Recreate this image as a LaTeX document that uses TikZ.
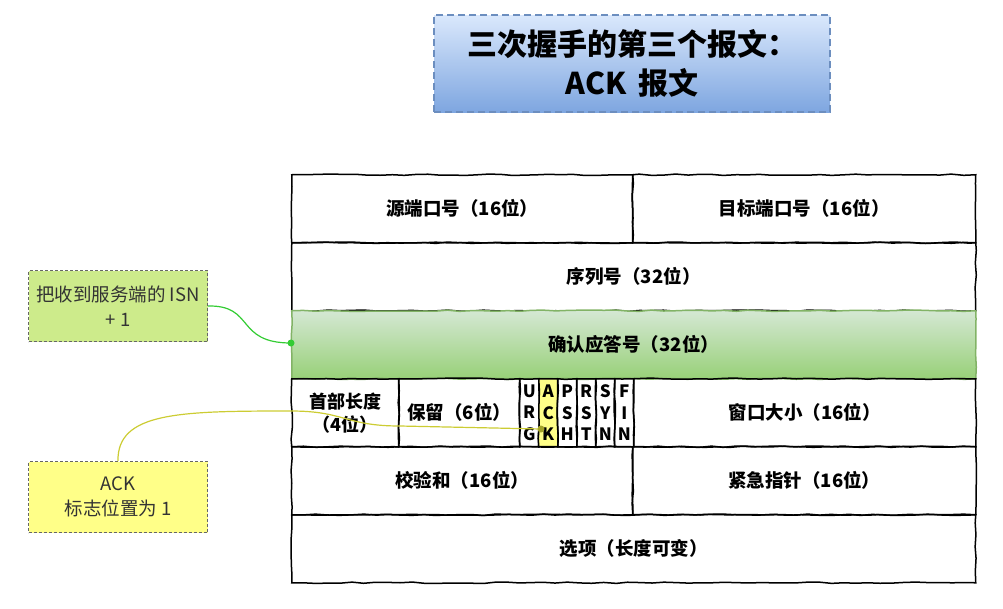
\documentclass[tikz,border=0pt]{standalone}
\usepackage{fontspec}
\setmainfont{Noto Sans CJK SC}
\usetikzlibrary{decorations.pathmorphing,shadings}
\definecolor{titletop}{HTML}{DAE8FC}
\definecolor{titlebot}{HTML}{7EA6E0}
\definecolor{titleline}{HTML}{6C8EBF}
\definecolor{greentop}{HTML}{D5E8D4}
\definecolor{greenbot}{HTML}{97D077}
\definecolor{greenline}{HTML}{82B366}
\definecolor{notegreen}{HTML}{CDEB8B}
\definecolor{noteyellow}{HTML}{FFFF88}
\definecolor{notetext}{HTML}{333333}
\definecolor{conngreen}{HTML}{33CC33}
\definecolor{connyellow}{HTML}{CCCC33}
\definecolor{flagyellow}{HTML}{FFFF88}
\tikzset{
  cell/.style={draw=black, line width=1.5pt, anchor=north west, inner sep=0pt,
    minimum height=68pt, font=\fontsize{18.5}{21}\selectfont\bfseries,
    decorate, decoration={random steps, segment length=12pt, amplitude=0.7pt}},
  flagcell/.style={cell, minimum width=19pt, align=center, font=\fontsize{17}{21.5}\selectfont\bfseries},
  note/.style={draw=gray!80!black, dash pattern=on 3pt off 2pt, line width=1pt, anchor=north west,
    minimum width=179pt, minimum height=71pt, inner sep=0pt, align=center,
    text=notetext, font=\fontsize{18.5}{25}\selectfont},
}
\begin{document}
\begin{tikzpicture}[x=1pt,y=-1pt]
\useasboundingbox (0,0) rectangle (1003,608);
% title
\node[draw=titleline, dash pattern=on 7pt off 4pt, line width=1.6pt, top color=titletop, bottom color=titlebot,
  minimum width=396pt, minimum height=97pt, inner sep=0pt, align=center,
  font=\fontsize{30}{39}\selectfont\bfseries] (title) at (632,63.5)
  {三次握手的第三个报文：\\ACK\hspace{0.4em}报文};
% table
\node[cell, minimum width=341pt] (src) at (291,174) {源端口号（16位）};
\node[cell, minimum width=343pt] (dst) at (632,174) {目标端口号（16位）};
\node[cell, minimum width=684pt] (seq) at (291,242) {序列号（32位）};
\node[cell, draw=greenline, top color=greentop, bottom color=greenbot, minimum width=684pt] (ackno) at (291,310) {确认应答号（32位）};
\node[cell, minimum width=107pt, align=center, font=\fontsize{18}{23}\selectfont\bfseries] (hlen) at (291,378) {首部长度\\（4位）};
\node[cell, minimum width=121pt] (rsv) at (398,378) {保留（6位）};
\node[flagcell] (urg) at (519,378) {U\\R\\G};
\node[flagcell, fill=flagyellow] (ackf) at (538,378) {A\\C\\K};
\node[flagcell] (psh) at (557,378) {P\\S\\H};
\node[flagcell] (rst) at (576,378) {R\\S\\T};
\node[flagcell] (syn) at (595,378) {S\\Y\\N};
\node[flagcell] (fin) at (614,378) {F\\I\\N};
\node[cell, minimum width=342pt] (win) at (633,378) {窗口大小（16位）};
\node[cell, minimum width=341pt] (chk) at (291,446) {校验和（16位）};
\node[cell, minimum width=343pt] (uptr) at (632,446) {紧急指针（16位）};
\node[cell, minimum width=684pt] (opt) at (291,514) {选项（长度可变）};
% notes
\node[note, fill=notegreen] (note1) at (28,270) {把收到服务端的 ISN\\+ 1};
\node[note, fill=noteyellow] (note2) at (28,461) {ACK\\标志位置为 1};
% connectors
\coordinate (gdot) at (291,343);
\coordinate (ydot) at (541,429);
\draw[conngreen, line width=1.2pt] (note1.east) .. controls (255,305) and (235,343) .. (gdot);
\fill[conngreen] (gdot) circle (3.5pt);
\draw[connyellow, line width=1.2pt] (note2.north) .. controls (117,412) and (180,411) .. (291,411)
  .. controls (345,411) and (345,426) .. (400,426) -- (ydot);
\fill[connyellow!80!black] (ydot) circle (3.5pt);
\end{tikzpicture}
\end{document}
